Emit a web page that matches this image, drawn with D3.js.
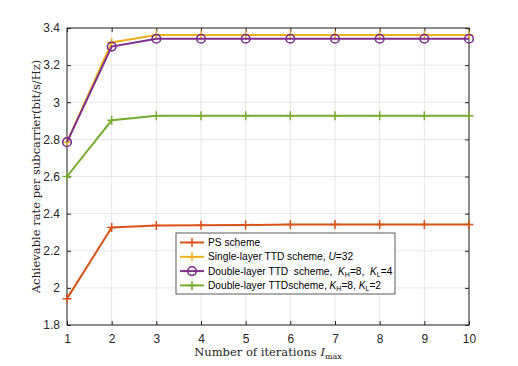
<!DOCTYPE html>
<html>
<head>
<meta charset="utf-8">
<script src="https://cdn.jsdelivr.net/npm/d3@7"></script>
<style>
  body { margin: 0; background: #fff; }
  .tick text { font-family: "Liberation Sans", Arial, sans-serif; font-size: 12px; fill: #262626; }
  .lab { font-family: "DejaVu Serif", "Liberation Serif", serif; font-size: 11.5px; fill: #262626; }
  .leg { font-family: "Liberation Sans", Arial, sans-serif; font-size: 10.2px; fill: #000; }
</style>
</head>
<body>
<div id="chart"></div>
<script>
const iterations = [1, 2, 3, 4, 5, 6, 7, 8, 9, 10];
const psScheme   = [1.942, 2.325, 2.336, 2.337, 2.339, 2.341, 2.341, 2.341, 2.341, 2.341];
const singleTTD  = [2.785, 3.322, 3.362, 3.362, 3.362, 3.362, 3.362, 3.362, 3.362, 3.362];
const doubleKL4  = [2.785, 3.300, 3.342, 3.342, 3.342, 3.342, 3.342, 3.342, 3.342, 3.342];
const doubleKL2  = [2.600, 2.903, 2.927, 2.927, 2.927, 2.927, 2.927, 2.927, 2.927, 2.927];
const yTicks = [1.8, 2, 2.2, 2.4, 2.6, 2.8, 3, 3.2, 3.4];

const series = [
  {name: "ps", values: psScheme, color: "#D95319", marker: "plus"},
  {name: "single", values: singleTTD, color: "#EDB120", marker: "plus"},
  {name: "k4", values: doubleKL4, color: "#7E2F8E", marker: "circle"},
  {name: "k2", values: doubleKL2, color: "#77AC30", marker: "plus"}
];

/*******************************/
/*    Declare the constants    */
/*******************************/
const width = 518;
const height = 366;
const margin = {top: 28, right: 49, bottom: 41, left: 67};
const innerWidth = width - margin.left - margin.right;
const innerHeight = height - margin.top - margin.bottom;

const svg = d3.select("#chart")
  .append("svg")
    .attr("width", width)
    .attr("height", height);

const innerChart = svg
  .append("g")
    .attr("transform", `translate(${margin.left}, ${margin.top})`);

/****************************/
/*    Declare the scales    */
/****************************/
const xScale = d3.scaleLinear()
  .domain([1, 10])
  .range([0, innerWidth]);

const yScale = d3.scaleLinear()
  .domain([1.8, 3.4])
  .range([innerHeight, 0]);

/**************************/
/*      Grid and axes     */
/**************************/
innerChart.append("g")
  .selectAll("line")
  .data(iterations)
  .join("line")
    .attr("x1", d => xScale(d)).attr("x2", d => xScale(d))
    .attr("y1", 0).attr("y2", innerHeight)
    .attr("stroke", "#e6e6e6").attr("stroke-width", 1);

innerChart.append("g")
  .selectAll("line")
  .data(yTicks)
  .join("line")
    .attr("x1", 0).attr("x2", innerWidth)
    .attr("y1", d => yScale(d)).attr("y2", d => yScale(d))
    .attr("stroke", "#e6e6e6").attr("stroke-width", 1);

const styleAxis = g => {
  g.select(".domain").remove();
  g.selectAll(".tick line").attr("stroke", "#262626");
};
// mirror axes: tick marks only, no labels
const styleMirror = g => {
  styleAxis(g);
  g.selectAll(".tick text").remove();
};

innerChart.append("g")
  .attr("transform", `translate(0, ${innerHeight})`)
  .call(d3.axisBottom(xScale).tickValues(iterations).tickSize(-4).tickPadding(9).tickFormat(d3.format("d")))
  .call(styleAxis);
innerChart.append("g")
  .call(d3.axisTop(xScale).tickValues(iterations).tickSize(-4))
  .call(styleMirror);
innerChart.append("g")
  .call(d3.axisLeft(yScale).tickValues(yTicks).tickSize(-4).tickPadding(7).tickFormat(d => d3.format("")(d)))
  .call(styleAxis);
innerChart.append("g")
  .attr("transform", `translate(${innerWidth}, 0)`)
  .call(d3.axisRight(yScale).tickValues(yTicks).tickSize(-4))
  .call(styleMirror);

innerChart.append("rect")
  .attr("x", 0).attr("y", 0)
  .attr("width", innerWidth).attr("height", innerHeight)
  .attr("fill", "none")
  .attr("stroke", "#262626")
  .attr("stroke-width", 1);

/**************************/
/*     Lines & markers    */
/**************************/
const line = d3.line()
  .x((d, i) => xScale(iterations[i]))
  .y(d => yScale(d));

const drawMarker = (g, type, color, x, y) => {
  if (type === "plus") {
    g.append("path")
      .attr("d", `M${x - 4.5},${y}H${x + 4.5}M${x},${y - 4.5}V${y + 4.5}`)
      .attr("stroke", color).attr("stroke-width", 1.5).attr("fill", "none");
  } else {
    g.append("circle")
      .attr("cx", x).attr("cy", y).attr("r", 4.3)
      .attr("stroke", color).attr("stroke-width", 1.6).attr("fill", "none");
  }
};

series.forEach(s => {
  const g = innerChart.append("g");
  g.append("path")
    .datum(s.values)
    .attr("d", line)
    .attr("fill", "none")
    .attr("stroke", s.color)
    .attr("stroke-width", 2);
  s.values.forEach((v, i) => drawMarker(g, s.marker, s.color, xScale(iterations[i]), yScale(v)));
});

/**************************/
/*         Labels         */
/**************************/
svg.append("text")
  .attr("class", "lab")
  .attr("text-anchor", "middle")
  .attr("transform", `translate(40, ${margin.top + innerHeight / 2}) rotate(-90)`)
  .text("Achievable rate per subcarrier(bit/s/Hz)");

const xl = svg.append("text")
  .attr("class", "lab")
  .attr("text-anchor", "middle")
  .attr("x", margin.left + innerWidth / 2)
  .attr("y", 356);
xl.append("tspan").text("Number of iterations ");
xl.append("tspan").attr("font-style", "italic").text("I");
xl.append("tspan").attr("font-size", "8px").attr("dy", 2.5).text("max");

/**************************/
/*         Legend         */
/**************************/
const legendRows = [
  {s: series[0], parts: [["PS scheme"]]},
  {s: series[1], parts: [["Single-layer TTD scheme, "], ["U", "i"], ["=32"]]},
  {s: series[2], parts: [["Double-layer TTD  scheme,  "], ["K", "i"], ["H", "sub"], ["=8,  "], ["K", "i"], ["L", "sub"], ["=4"]]},
  {s: series[3], parts: [["Double-layer TTDscheme, "], ["K", "i"], ["H", "sub"], ["=8, "], ["K", "i"], ["L", "sub"], ["=2"]]}
];

const legend = svg.append("g").attr("transform", "translate(176, 233)");
legend.append("rect")
  .attr("width", 219).attr("height", 61)
  .attr("fill", "#fff").attr("stroke", "#333").attr("stroke-width", 0.8);

legendRows.forEach((row, i) => {
  const y = 9.5 + i * 14.3;
  const g = legend.append("g");
  g.append("line")
    .attr("x1", 4).attr("x2", 28).attr("y1", y).attr("y2", y)
    .attr("stroke", row.s.color).attr("stroke-width", 2);
  drawMarker(g, row.s.marker, row.s.color, 16, y);
  const t = g.append("text").attr("class", "leg").attr("x", 32).attr("y", y + 3.5).attr("xml:space", "preserve");
  let shifted = false;
  row.parts.forEach(p => {
    const ts = t.append("tspan").text(p[0]);
    if (p[1] === "i") ts.attr("font-style", "italic");
    if (p[1] === "sub") { ts.attr("font-size", "7px").attr("dy", 2); shifted = true; }
    else if (shifted) { ts.attr("dy", -2); shifted = false; }
  });
});
</script>
</body>
</html>
